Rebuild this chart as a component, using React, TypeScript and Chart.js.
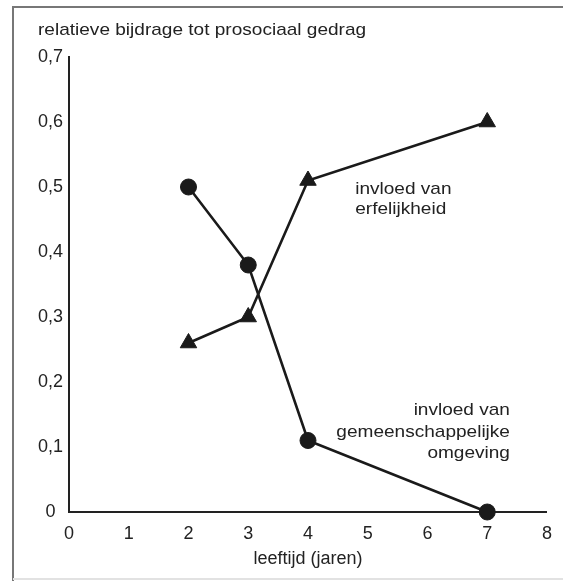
import { useEffect, useRef } from 'react';
import { Chart, registerables } from 'chart.js';

Chart.register(...registerables);

// ---- data ----
const ages = [2, 3, 4, 7];
const erfelijkheid = [0.26, 0.3, 0.51, 0.6];
const gemeenschappelijkeOmgeving = [0.5, 0.38, 0.11, 0.0];

const xTickLabels = ['0', '1', '2', '3', '4', '5', '6', '7', '8'];
const yTickLabels = ['0', '0,1', '0,2', '0,3', '0,4', '0,5', '0,6', '0,7'];

const chartTitle = 'relatieve bijdrage tot prosociaal gedrag';
const xAxisTitle = 'leeftijd (jaren)';
const erfelijkheidLabel = ['invloed van', 'erfelijkheid'];
const omgevingLabel = ['invloed van', 'gemeenschappelijke', 'omgeving'];

// ---- styling / placement (not data) ----
const FONT = '"Liberation Sans", Arial, Helvetica, sans-serif';
const INK = '#1a1a1a';
const TEXT = '#222222';
const STRETCH = 1.12;

function drawStretched(ctx: CanvasRenderingContext2D, text: string, x: number, y: number, align: CanvasTextAlign) {
  ctx.save();
  ctx.translate(x, y);
  ctx.scale(STRETCH, 1);
  ctx.textAlign = align;
  ctx.textBaseline = 'alphabetic';
  ctx.fillText(text, 0, 0);
  ctx.restore();
}

const decorPlugin = {
  id: 'decor',
  beforeDraw(chart: any) {
    const ctx = chart.ctx as CanvasRenderingContext2D;
    ctx.save();
    ctx.strokeStyle = '#777777';
    ctx.lineWidth = 2;
    ctx.beginPath();
    ctx.moveTo(13, chart.height);
    ctx.lineTo(13, 7);
    ctx.lineTo(chart.width, 7);
    ctx.stroke();
    ctx.strokeStyle = '#e2e2e2';
    ctx.beginPath();
    ctx.moveTo(13, 579);
    ctx.lineTo(chart.width, 579);
    ctx.stroke();
    ctx.restore();
  },
  afterDraw(chart: any) {
    const ctx = chart.ctx as CanvasRenderingContext2D;
    const { x, y } = chart.scales;
    ctx.save();
    ctx.fillStyle = TEXT;
    ctx.font = `17px ${FONT}`;
    drawStretched(ctx, chartTitle, 38, 35, 'left');

    const lh = 20;
    const ex = x.getPixelForValue(4.79);
    const ey = y.getPixelForValue(0.49);
    erfelijkheidLabel.forEach((t, i) => drawStretched(ctx, t, ex, ey + i * lh, 'left'));

    const ox = x.getPixelForValue(7.38);
    const oy = y.getPixelForValue(0.149);
    omgevingLabel.forEach((t, i) => drawStretched(ctx, t, ox, oy + i * 21.5, 'right'));
    ctx.restore();
  },
};

export default function App() {
  const ref = useRef<HTMLCanvasElement | null>(null);

  useEffect(() => {
    if (!ref.current) return;
    const chart = new Chart(ref.current, {
      type: 'line',
      data: {
        datasets: [
          {
            label: 'invloed van erfelijkheid',
            data: ages.map((a, i) => ({ x: a, y: erfelijkheid[i] })),
            borderColor: INK,
            backgroundColor: INK,
            borderWidth: 2.6,
            pointStyle: 'triangle',
            pointRadius: 9.5,
            pointBorderWidth: 1,
            pointBackgroundColor: INK,
            pointBorderColor: INK,
            tension: 0,
            clip: false,
          },
          {
            label: 'invloed van gemeenschappelijke omgeving',
            data: ages.map((a, i) => ({ x: a, y: gemeenschappelijkeOmgeving[i] })),
            borderColor: INK,
            backgroundColor: INK,
            borderWidth: 2.6,
            pointStyle: 'circle',
            pointRadius: 8,
            pointBorderWidth: 1,
            pointBackgroundColor: INK,
            pointBorderColor: INK,
            tension: 0,
            clip: false,
          },
        ],
      },
      options: {
        animation: false,
        responsive: false,
        layout: { padding: { top: 57, right: 16, left: 0, bottom: 0 } },
        plugins: {
          legend: { display: false },
          tooltip: { enabled: false },
          title: { display: false },
        },
        scales: {
          x: {
            type: 'linear',
            min: 0,
            max: 8,
            grid: { display: false, drawTicks: false },
            border: { display: true, color: '#222222', width: 2 },
            ticks: {
              stepSize: 1,
              padding: 11,
              color: TEXT,
              font: { family: FONT, size: 18 },
              callback: (v: any) => xTickLabels[Math.round(Number(v))] ?? '',
            },
            title: {
              display: true,
              text: xAxisTitle,
              color: TEXT,
              font: { family: FONT, size: 18 },
              padding: { top: 0, bottom: 11.5 },
            },
            afterFit: (s: any) => {
              s.height = 69;
            },
          },
          y: {
            type: 'linear',
            min: 0,
            max: 0.7,
            grid: { display: false, drawTicks: false },
            border: { display: true, color: '#222222', width: 2 },
            ticks: {
              stepSize: 0.1,
              padding: 6,
              crossAlign: 'center',
              color: TEXT,
              font: { family: FONT, size: 18 },
              callback: (v: any) => yTickLabels[Math.round(Number(v) * 10)] ?? '',
            },
            afterFit: (s: any) => {
              s.width = 69;
            },
          },
        },
      },
      plugins: [decorPlugin],
    } as any);
    return () => chart.destroy();
  }, []);

  return (
    <div style={{ position: 'absolute', left: 0, top: 0, width: 563, height: 581, background: '#ffffff' }}>
      <canvas ref={ref} width={563} height={581} style={{ display: 'block' }} />
    </div>
  );
}
